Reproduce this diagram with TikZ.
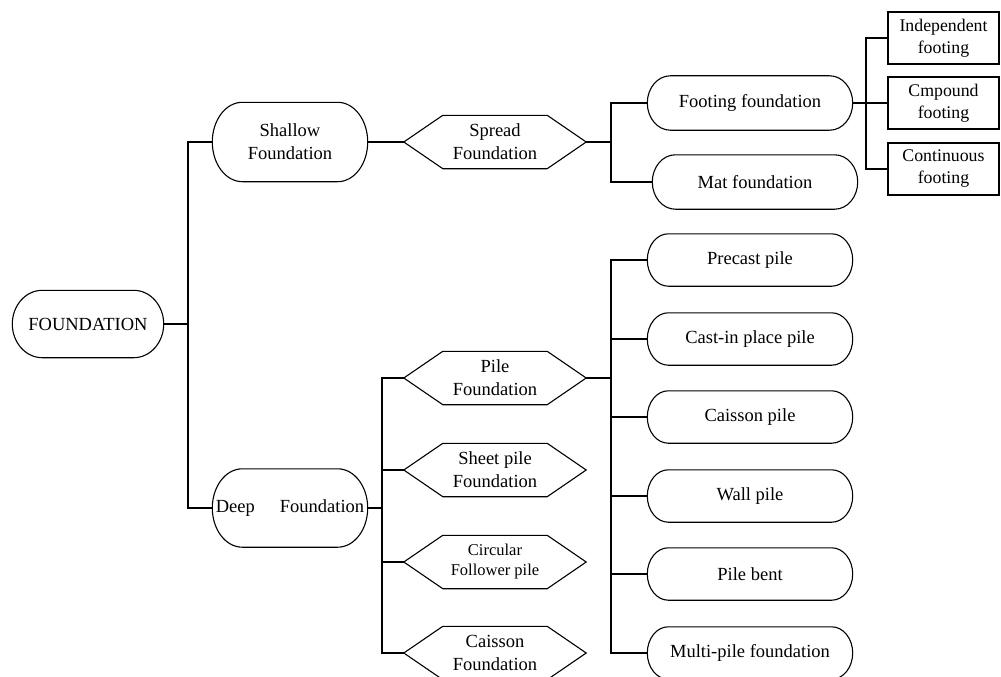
\documentclass[tikz,border=0pt]{standalone}
\usepackage{fontspec}
\setmainfont{Liberation Serif}
\usetikzlibrary{calc}
\tikzset{
  nbase/.style={draw=none, inner sep=0pt, align=center, font=\fontsize{18.5}{23}\selectfont},
  oct/.style={nbase, minimum width=205pt, minimum height=52pt},
  hexa/.style={nbase, minimum width=182pt, minimum height=53pt},
  rbox/.style={nbase, draw, line width=1.1pt, minimum width=111pt, minimum height=52pt, font=\fontsize{17.8}{22}\selectfont},
  conn/.style={line width=1.1pt},
}
\newcommand\octoshape[2]{%
  \draw[conn] let \p1=(#1.north west), \p2=(#1.south east), \n1={(\y1-\y2)/2} in
    ({\x1+#2},\y1) -- ({\x2-#2},\y1)
    arc[start angle=90, end angle=-90, x radius=#2pt, y radius=\n1]
    -- ({\x1+#2},\y2)
    arc[start angle=270, end angle=90, x radius=#2pt, y radius=\n1]
    -- cycle;}
\newcommand\hexshape[2]{%
  \draw[conn] let \p1=(#1.north west), \p2=(#1.south east), \p3=(#1.center) in
    ({\x1+#2},\y1) -- ({\x2-#2},\y1) -- (\x2,\y3) -- ({\x2-#2},\y2)
    -- ({\x1+#2},\y2) -- (\x1,\y3) -- cycle;}
\begin{document}
\begin{tikzpicture}[x=1pt,y=-1pt]
\useasboundingbox (0,0) rectangle (1001,677);
\clip (0,0) rectangle (1001,677);
% nodes
\node[oct, minimum width=151pt, minimum height=67pt] (F) at (88,324) {FOUNDATION};
\node[oct, minimum width=155pt, minimum height=79pt] (Sh) at (290,142) {Shallow\\Foundation};
\node[oct, minimum width=155pt, minimum height=78pt] (Dp) at (290,508) {Deep\hspace{25pt}Foundation};
\node[hexa] (Sp) at (495,142) {Spread\\Foundation};
\node[oct, minimum height=54pt] (Ff) at (750,103) {Footing foundation};
\node[oct, minimum height=54pt] (Mat) at (755,182) {Mat foundation};
\node[rbox] (B1) at (943.5,38) {Independent\\footing};
\node[rbox] (B2) at (943.5,103) {Cmpound\\footing};
\node[rbox] (B3) at (943.5,169) {Continuous\\footing};
\node[hexa] (Pf) at (495,378) {Pile\\Foundation};
\node[hexa] (Sf) at (495,470) {Sheet pile\\Foundation};
\node[hexa, font=\fontsize{16.5}{20}\selectfont] (Cf) at (495,562) {Circular\\Follower pile};
\node[hexa] (Caf) at (495,653) {Caisson\\Foundation};
\node[oct] (P1) at (750,260) {Precast pile};
\node[oct] (P2) at (750,339) {Cast-in place pile};
\node[oct] (P3) at (750,417) {Caisson pile};
\node[oct] (P4) at (750,496) {Wall pile};
\node[oct] (P5) at (750,574) {Pile bent};
\node[oct] (P6) at (750,653) {Multi-pile foundation};
% outlines
\octoshape{F}{30}
\octoshape{Sh}{30}
\octoshape{Dp}{30}
\octoshape{Ff}{23}
\octoshape{Mat}{23}
\foreach \nm in {P1,P2,P3,P4,P5,P6} {\octoshape{\nm}{21}}
\foreach \nm in {Sp,Pf,Sf,Cf,Caf} {\hexshape{\nm}{39}}
% junctions
\coordinate (j1) at (188,324);
\coordinate (j2) at (611,142);
\coordinate (j3) at (866,103);
\coordinate (j4) at (382,508);
\coordinate (j5) at (611,378);
% connectors
\draw[conn] (F.east) -- (j1);
\draw[conn] (Sh.west) -| (j1) |- (Dp.west);
\draw[conn] (Sh.east) -- (Sp.west);
\draw[conn] (Sp.east) -- (j2);
\draw[conn] (Ff.west) -| (j2) |- (Mat.west);
\draw[conn] (Ff.east) -- (B2.west);
\draw[conn] (B1.west) -| (j3) |- (B3.west);
\draw[conn] (Dp.east) -- (j4);
\draw[conn] (Pf.west) -| (j4) |- (Caf.west);
\draw[conn] (Sf.west) -- (Sf.west -| j4);
\draw[conn] (Cf.west) -- (Cf.west -| j4);
\draw[conn] (Pf.east) -- (j5);
\draw[conn] (P1.west) -| (j5) |- (P6.west);
\draw[conn] (P2.west) -- (P2.west -| j5);
\draw[conn] (P3.west) -- (P3.west -| j5);
\draw[conn] (P4.west) -- (P4.west -| j5);
\draw[conn] (P5.west) -- (P5.west -| j5);
\end{tikzpicture}
\end{document}
